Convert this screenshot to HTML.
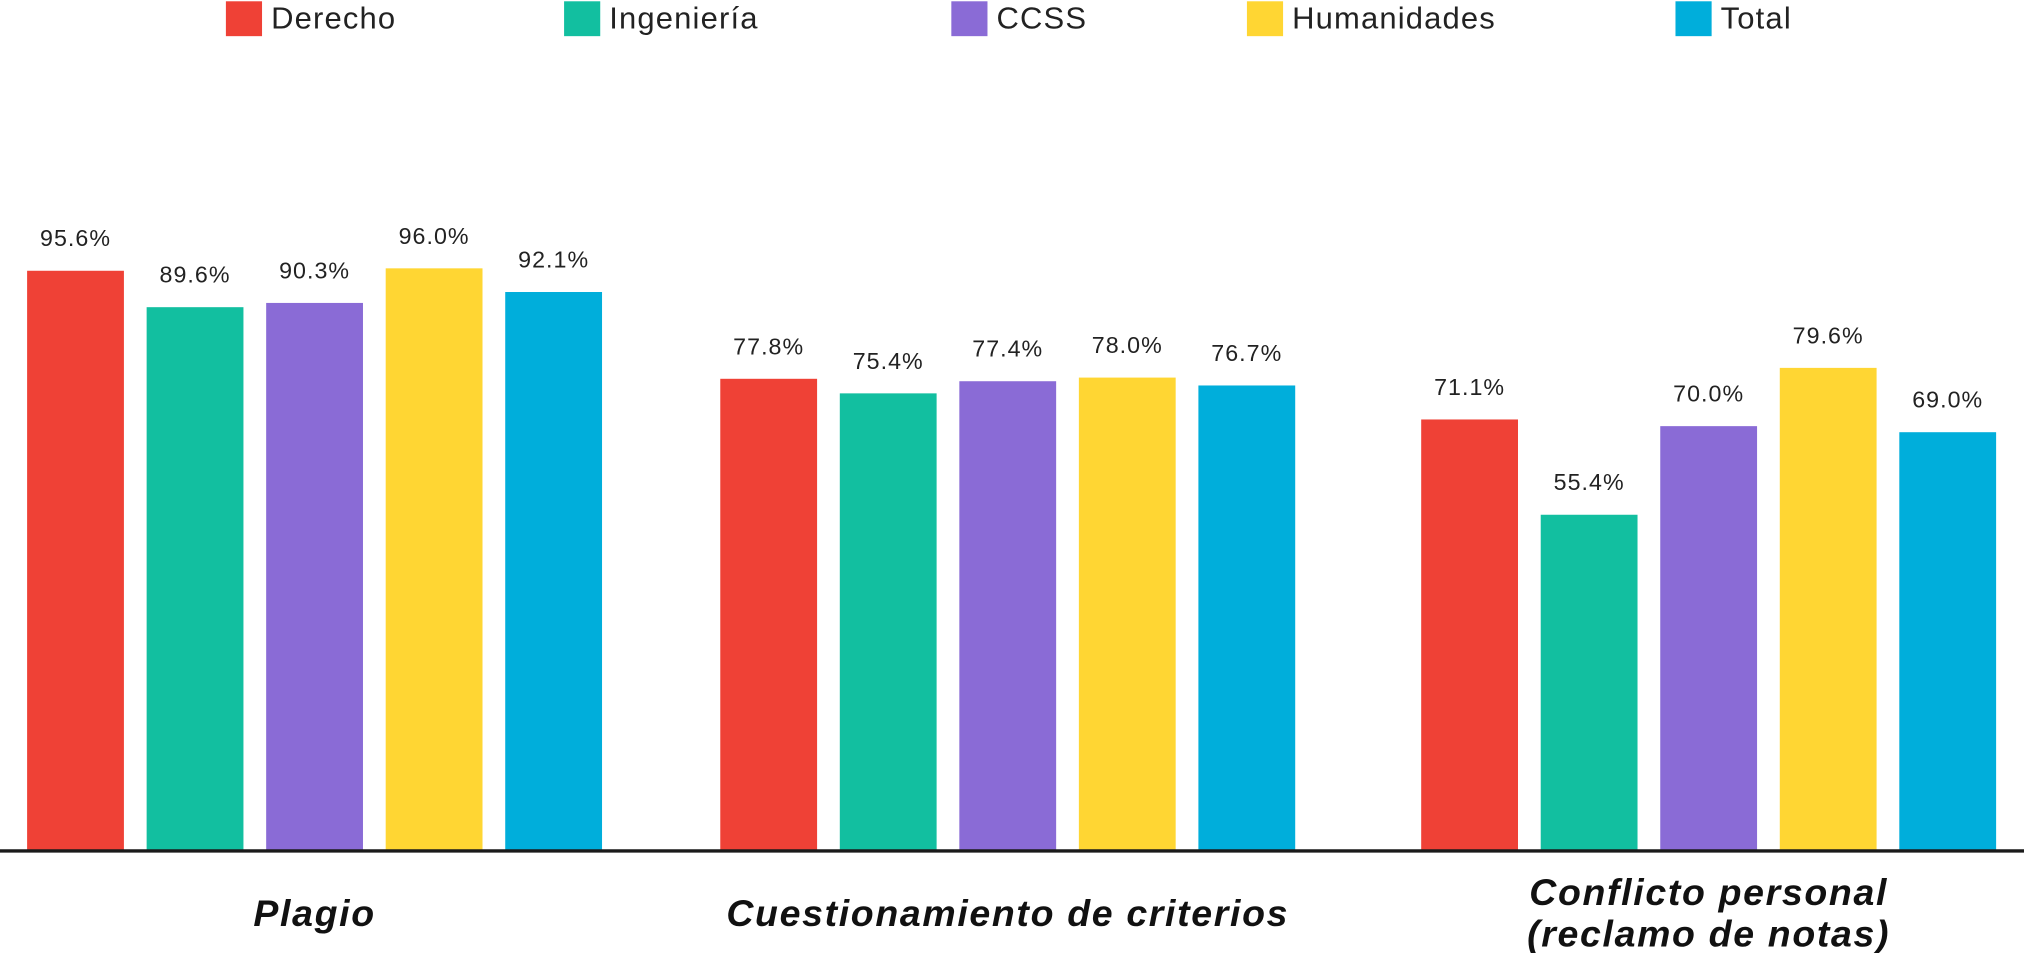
<!DOCTYPE html>
<html><head><meta charset="utf-8"><style>
html,body{margin:0;padding:0;background:#fff;}
svg{display:block;}
text{font-family:"Liberation Sans",sans-serif;}
</style></head><body>
<svg id="chart" width="2024" height="953" viewBox="0 0 1568 738" preserveAspectRatio="none" xmlns="http://www.w3.org/2000/svg">
<g id="legend"></g>
<g id="bars"></g>
<line x1="0" x2="1568" y1="659" y2="659" stroke="#1a1a1a" stroke-width="2.6"/>
<g id="cats"></g>
</svg>
<script>
const categories = [["Plagio"], ["Cuestionamiento de criterios"], ["Conflicto personal", "(reclamo de notas)"]];
const seriesNames = ["Derecho", "Ingeniería", "CCSS", "Humanidades", "Total"];
const derecho = [95.6, 77.8, 71.1];
const ingenieria = [89.6, 75.4, 55.4];
const ccss = [90.3, 77.4, 70.0];
const humanidades = [96.0, 78.0, 79.6];
const total = [92.1, 76.7, 69.0];

const series = [derecho, ingenieria, ccss, humanidades, total];
const colors = ["#ef4136", "#12bfa0", "#8a6bd6", "#ffd633", "#00aedb"];
const NS = "http://www.w3.org/2000/svg";
const baseY = 659, pxPerPct = 4.70;
const groupStart = [21, 558, 1101], step = 92.6, barW = 75;
function yScale(v){ return baseY - v * pxPerPct; }
function mk(tag, attrs, parent){ const e = document.createElementNS(NS, tag); for (const k in attrs) e.setAttribute(k, attrs[k]); parent.appendChild(e); return e; }

const bars = document.getElementById('bars');
series.forEach((vals, s) => {
  vals.forEach((v, g) => {
    const x = groupStart[g] + s * step;
    const r = mk('rect', {x: x, y: yScale(v), width: barW, height: baseY - yScale(v), fill: colors[s]}, bars);
    
    
    const t = mk('text', {x: x + barW / 2, y: yScale(v) - 19, 'text-anchor': 'middle', 'font-size': 18, 'letter-spacing': 0.8, fill: '#222'}, bars);
    t.textContent = v.toFixed(1) + '%';
    
    
  });
});

const legendX = [175, 437, 737, 966, 1298];
const legend = document.getElementById('legend');
seriesNames.forEach((n, i) => {
  const g = mk('g', {}, legend);
  
  
  mk('rect', {x: legendX[i], y: 1, width: 28, height: 27, fill: colors[i]}, g);
  const t = mk('text', {x: legendX[i] + 35, y: 22, 'font-size': 24, 'letter-spacing': 0.9, fill: '#222'}, g);
  t.textContent = n;
});

const cats = document.getElementById('cats');
categories.forEach((lines, g) => {
  const cx = groupStart[g] + 2 * step + barW / 2;
  const y0 = lines.length === 1 ? 717 : 701;
  lines.forEach((ln, j) => {
    const t = mk('text', {x: cx, y: y0 + j * 32, 'text-anchor': 'middle', 'font-size': 29, 'letter-spacing': 1.3, 'font-weight': 'bold', 'font-style': 'italic', fill: '#111'}, cats);
    t.textContent = ln;
    
    
  });
});
</script>
</body></html>
